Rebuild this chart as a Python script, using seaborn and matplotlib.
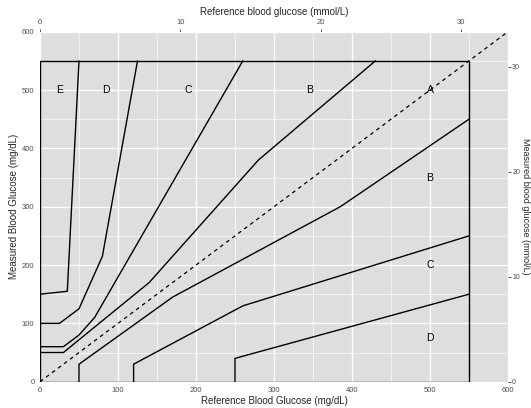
import numpy as np
import pandas as pd
import seaborn as sns
import matplotlib.pyplot as plt

# Parkes error grid zone boundaries (mg/dL)
e_upper_x = [0, 35, 50]
e_upper_y = [150, 155, 550]
d_upper_x = [0, 25, 50, 80, 125]
d_upper_y = [100, 100, 125, 215, 550]
c_upper_x = [0, 30, 50, 70, 260]
c_upper_y = [60, 60, 80, 110, 550]
b_upper_x = [0, 30, 140, 280, 430]
b_upper_y = [50, 50, 170, 380, 550]
b_lower_x = [50, 50, 170, 385, 550]
b_lower_y = [0, 30, 145, 300, 450]
c_lower_x = [120, 120, 260, 550]
c_lower_y = [0, 30, 130, 250]
d_lower_x = [250, 250, 550]
d_lower_y = [0, 40, 150]
border_x = [0, 0, 550, 550, 0]
border_y = [0, 550, 550, 0, 0]
ident_x = [0, 600]
ident_y = [0, 600]

zone_labels = ["E", "D", "C", "B", "A", "B", "C", "D"]
label_x = [25, 85, 190, 345, 500, 500, 500, 500]
label_y = [500, 500, 500, 500, 500, 350, 200, 75]

lines = {
    "border": (border_x, border_y),
    "e_up": (e_upper_x, e_upper_y),
    "d_up": (d_upper_x, d_upper_y),
    "c_up": (c_upper_x, c_upper_y),
    "b_up": (b_upper_x, b_upper_y),
    "b_lo": (b_lower_x, b_lower_y),
    "c_lo": (c_lower_x, c_lower_y),
    "d_lo": (d_lower_x, d_lower_y),
}
rows = []
for name, (xs, ys) in lines.items():
    for i, (x, y) in enumerate(zip(xs, ys)):
        rows.append({"line": name, "order": i, "x": x, "y": y})
df = pd.DataFrame(rows)
diag = pd.DataFrame({"x": ident_x, "y": ident_y})

sns.set_style("darkgrid", {"axes.facecolor": "#DEDEDE", "grid.color": "white"})
plt.rcParams["font.family"] = ["Liberation Sans", "DejaVu Sans"]

fig = plt.figure(figsize=(5.31, 4.08), dpi=100)
ax = fig.add_axes([40 / 531, 1 - 381.7 / 408, 468 / 531, 350 / 408])

sns.lineplot(data=df, x="x", y="y", units="line", estimator=None, sort=False,
             color="black", linewidth=1.0, ax=ax)
sns.lineplot(data=diag, x="x", y="y", estimator=None, sort=False,
             color="black", linewidth=0.9, linestyle=(0, (3, 3)), ax=ax)

for t, x, y in zip(zone_labels, label_x, label_y):
    ax.text(x, y, t, ha="center", va="center", fontsize=7.5, color="black")

ax.set_xlim(0, 600)
ax.set_ylim(0, 600)
ax.set_xticks(range(0, 700, 100))
ax.set_yticks(range(0, 700, 100))
ax.set_xticks(range(50, 600, 100), minor=True)
ax.set_yticks(range(50, 600, 100), minor=True)
ax.grid(which="major", color="white", linewidth=0.9)
ax.grid(which="minor", color="white", linewidth=0.45)
for s in ax.spines.values():
    s.set_visible(False)
ax.tick_params(which="major", length=2.5, width=0.6, color="#333333",
               labelsize=5.5, labelcolor="#4D4D4D", pad=1.5)
ax.tick_params(which="minor", length=0)
ax.set_xlabel("Reference Blood Glucose (mg/dL)", fontsize=7, labelpad=1)
ax.set_ylabel("Measured Blood Glucose (mg/dL)", fontsize=7, labelpad=2)

top = ax.secondary_xaxis("top", functions=(lambda v: v / 18, lambda v: v * 18))
top.set_xticks([0, 10, 20, 30])
top.tick_params(length=2.5, width=0.6, color="#333333", labelsize=5.5,
                labelcolor="#4D4D4D", pad=1.5)
top.set_xlabel("Reference blood glucose (mmol/L)", fontsize=7, labelpad=3)
right = ax.secondary_yaxis("right", functions=(lambda v: v / 18, lambda v: v * 18))
right.set_yticks([0, 10, 20, 30])
right.tick_params(length=2, width=0.6, color="#333333", labelsize=5,
                  labelcolor="#4D4D4D", pad=1)
right.set_ylabel("Measured blood glucose (mmol/L)", fontsize=6.5, rotation=270,
                 labelpad=7)
for sec in (top, right):
    for s in sec.spines.values():
        s.set_visible(False)

fig.savefig("out.png", dpi=100)
